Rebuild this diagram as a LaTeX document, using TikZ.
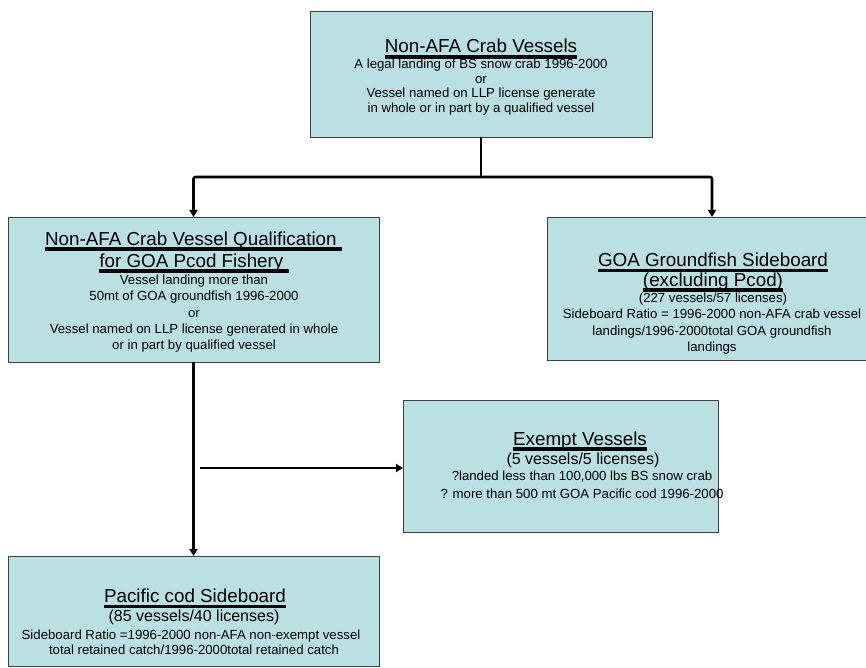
\documentclass[tikz,border=0pt]{standalone}
\usepackage{fontspec}
\setmainfont{Liberation Sans}
\usetikzlibrary{arrows.meta}
\definecolor{boxfill}{RGB}{186,224,227}
\definecolor{boxline}{RGB}{64,64,64}
\newcommand{\tul}[1]{\setbox0\hbox{#1}\rlap{\raisebox{-5.8pt}{\rule{\wd0}{3.4pt}}}\box0}
\begin{document}
\begin{tikzpicture}[x=1pt,y=-1pt,
  box/.style={draw=boxline, fill=boxfill, line width=0.9pt, inner sep=0pt, outer sep=0pt, rectangle},
  ttl/.style={font=\fontsize{18.8}{22}\selectfont, anchor=base, inner sep=0pt},
  bod/.style={font=\fontsize{13.2}{16}\selectfont, anchor=base, inner sep=0pt},
  big/.style={font=\fontsize{16}{19}\selectfont, anchor=base, inner sep=0pt},
  conn/.style={line width=2.6pt, black},
  arr/.style={conn, -{Triangle[width=8pt,length=7pt]}}]
\fill[white] (0,0) rectangle (866,668);
\useasboundingbox (0,0) rectangle (866,668);

% boxes
\node[box, minimum width=342pt, minimum height=126pt] (top) at (481,74) {};
\node[box, minimum width=371pt, minimum height=145pt] (left) at (193.5,289.5) {};
\node[box, minimum width=330pt, minimum height=143pt] (right) at (712,288.5) {};
\node[box, minimum width=315pt, minimum height=132pt] (exempt) at (560.5,466) {};
\node[box, minimum width=371pt, minimum height=110pt] (pac) at (193.5,611) {};

% connectors
\coordinate (split) at (481,177);
\coordinate (exstart) at (200,468);
\draw[conn] (top.south) -- (split);
\draw[arr, rounded corners=2pt] (split) -| (left.north);
\draw[arr, rounded corners=2pt] (split) -| (right.north);
\draw[arr] (left.south) -- (pac.north);
\draw[arr] (exstart) -- (exstart -| exempt.west);

% top box text
\node[ttl] (t0) at (481,53) {\tul{Non-AFA Crab Vessels}};
\node[bod] (t1) at (481,68.5) {A legal landing of BS snow crab 1996-2000};
\node[bod] (t2) at (481,83.5) {or};
\node[bod] (t3) at (481,98) {Vessel named on LLP license generate};
\node[bod] (t4) at (481,113) {in whole or in part by a qualified vessel};

% left box text
\node[ttl] (l0) at (193.5,245) {\tul{Non-AFA Crab Vessel Qualification }};
\node[ttl] (l1) at (194,267) {\tul{for GOA Pcod Fishery }};
\node[bod] (l2) at (194,284.5) {Vessel landing more than};
\node[bod] (l3) at (194,300.5) {50mt of GOA groundfish 1996-2000};
\node[bod] (l4) at (194,317) {or};
\node[bod] (l5) at (194,333) {Vessel named on LLP license generated in whole};
\node[bod] (l6) at (194,349.5) {or in part by qualified vessel};

% right box text
\node[ttl] (r0) at (713,266.5) {\tul{GOA Groundfish Sideboard}};
\node[ttl] (r1) at (713,286) {\tul{(excluding Pcod)}};
\node[bod] (r2) at (713,302.5) {(227 vessels/57 licenses)};
\node[bod] (r3) at (712,318) {Sideboard Ratio = 1996-2000 non-AFA crab vessel};
\node[bod] (r4) at (712,335.5) {landings/1996-2000total GOA groundfish};
\node[bod] (r5) at (712,351.5) {landings};

% exempt box text
\node[ttl] (e0) at (580,445) {\tul{Exempt Vessels}};
\node[big] (e1) at (583,464) {(5 vessels/5 licenses)};
\node[bod] (e2) at (582,480) {?landed less than 100,000 lbs BS snow crab};
\node[bod] (e3) at (582,498) {? more than 500 mt GOA Pacific cod 1996-2000};

% pacific box text
\node[ttl] (p0) at (195,602.5) {\tul{Pacific cod Sideboard}};
\node[big] (p1) at (194,621) {(85 vessels/40 licenses)};
\node[bod] (p2) at (191,639) {Sideboard Ratio =1996-2000 non-AFA non-exempt vessel};
\node[bod] (p3) at (194,654) {total retained catch/1996-2000total retained catch};
\end{tikzpicture}
\end{document}
